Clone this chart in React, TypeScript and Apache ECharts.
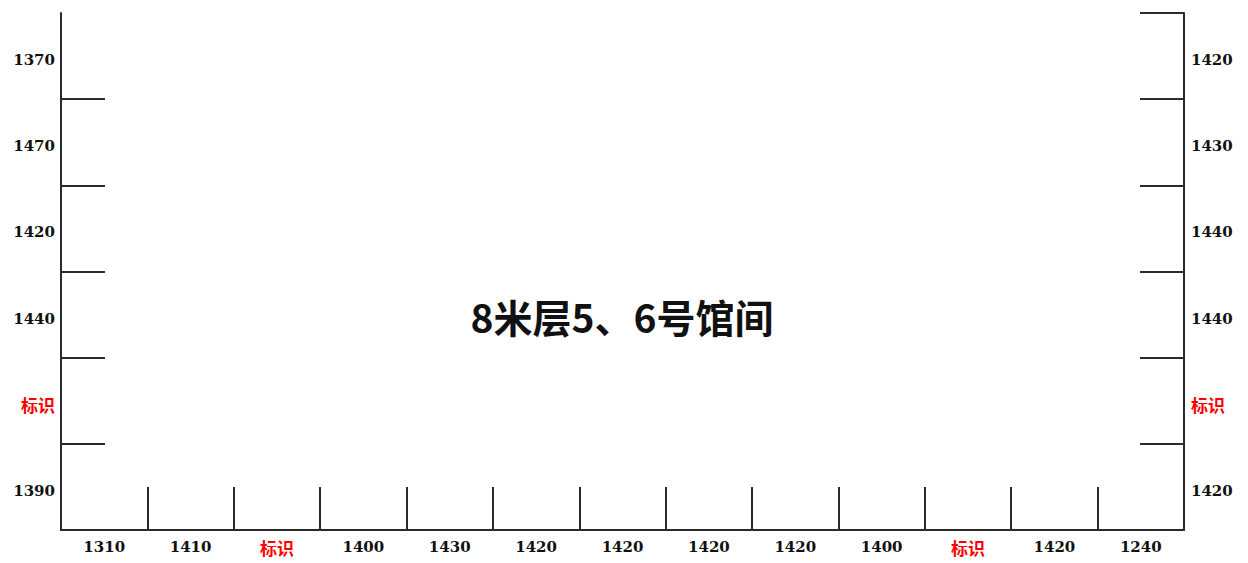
import React, { useEffect, useRef } from "react";
import * as echarts from "echarts";

const bottomLabels = ["1310", "1410", "标识", "1400", "1430", "1420", "1420", "1420", "1420", "1400", "标识", "1420", "1240"];
const leftLabels = ["1370", "1470", "1420", "1440", "标识", "1390"];
const rightLabels = ["1420", "1430", "1440", "1440", "标识", "1420"];
const centerTitle = "8米层5、6号馆间";

const lineStyle = { color: "#2b2b2b", width: 2 };
const fmt = (v: string) => (v === "标识" ? `{r|${v}}` : `{n|${v}}`);
const rich = {
  n: { fontFamily: "DejaVu Serif", fontWeight: "bold" as const, fontSize: 15, color: "#111111" },
  r: { fontFamily: "Noto Sans CJK SC", fontWeight: "bold" as const, fontSize: 17, color: "#ff0000" },
};

export default function App() {
  const ref = useRef<HTMLDivElement>(null);
  useEffect(() => {
    if (!ref.current) return;
    const chart = echarts.init(ref.current, null, { renderer: "svg" });
    chart.setOption({
      animation: false,
      backgroundColor: "#ffffff",
      grid: { left: 61, right: 64, top: 13, bottom: 33 },
      graphic: [
        {
          type: "text",
          x: 622,
          y: 316,
          style: {
            text: centerTitle,
            fontFamily: "Noto Sans CJK SC",
            fontWeight: "bold",
            fontSize: 39,
            fill: "#111111",
            align: "center",
            verticalAlign: "middle",
          },
        },
      ],
      xAxis: {
        type: "category",
        data: bottomLabels,
        boundaryGap: true,
        axisLine: { show: true, lineStyle },
        axisTick: { show: true, inside: true, length: 43, lineStyle },
        axisLabel: { margin: 9, interval: 0, formatter: fmt, rich },
        splitLine: { show: false },
      },
      yAxis: [
        {
          type: "category",
          data: leftLabels,
          inverse: true,
          position: "left",
          boundaryGap: true,
          axisLine: { show: true, lineStyle },
          axisTick: { show: true, inside: true, length: 44, lineStyle, interval: (i: number) => i !== 0 },
          axisLabel: { margin: 6, interval: 0, formatter: fmt, rich, padding: [8, 0, 0, 0] },
          splitLine: { show: false },
        },
        {
          type: "category",
          data: rightLabels,
          inverse: true,
          position: "right",
          boundaryGap: true,
          axisLine: { show: true, lineStyle },
          axisTick: { show: true, inside: true, length: 44, lineStyle },
          axisLabel: { margin: 7, interval: 0, formatter: fmt, rich, padding: [8, 0, 0, 0] },
          splitLine: { show: false },
        },
      ],
      series: [],
    });
    return () => chart.dispose();
  }, []);
  return (
    <div
      ref={ref}
      style={{ position: "fixed", left: 0, top: 0, width: 1248, height: 563 }}
    />
  );
}
